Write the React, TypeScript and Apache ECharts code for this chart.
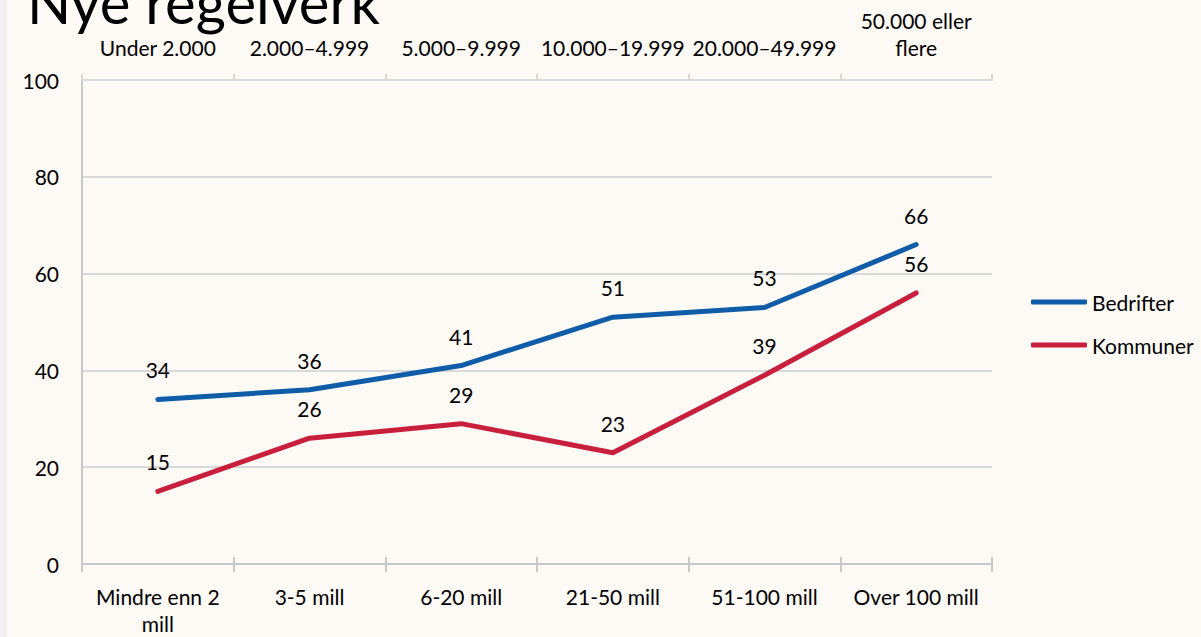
import React, { useEffect, useRef } from "react";
import * as echarts from "echarts";

// Revenue bands (bottom axis) and matching employee bands (top axis)
const revenueBands = ["Mindre enn 2\nmill", "3-5 mill", "6-20 mill", "21-50 mill", "51-100 mill", "Over 100 mill"];
const sizeBands = ["Under 2.000", "2.000–4.999", "5.000–9.999", "10.000–19.999", "20.000–49.999", "50.000 eller\nflere"];

const bedrifter = [34, 36, 41, 51, 53, 66];
const kommuner = [15, 26, 29, 23, 39, 56];

const yTicks = { min: 0, max: 100, interval: 20 };

const FONT = "Lato";
const BLUE = "#0f5ca8";
const RED = "#c91f3e";

export default function App() {
  const ref = useRef<HTMLDivElement>(null);

  useEffect(() => {
    if (!ref.current) return;
    const chart = echarts.init(ref.current, undefined, { renderer: "svg" });

    const labelStyle = {
      show: true,
      position: "top" as const,
      distance: 17,
      color: "#000",
      fontFamily: FONT,
      fontSize: 21,
      lineHeight: 24,
    };

    chart.setOption({
      animation: false,
      backgroundColor: "#fdf9f5",
      textStyle: { fontFamily: FONT },
      graphic: [
        { type: "rect", left: 0, top: 0, shape: { width: 7, height: 637 }, style: { fill: "#efefef" }, silent: true },
        {
          type: "text",
          left: 27,
          top: -28,
          style: { text: "Nye regelverk", fontFamily: FONT, fontSize: 58, fill: "#000" },
          silent: true,
        },
      ],
      legend: {
        orient: "vertical",
        left: 1031,
        top: 290,
        padding: 0,
        itemWidth: 56,
        itemHeight: 5,
        itemGap: 19,
        icon: "roundRect",
        textStyle: { fontFamily: FONT, fontSize: 21, color: "#000", lineHeight: 24 },
        data: ["Bedrifter", "Kommuner"],
      },
      grid: { left: 82, right: 209, top: 80, bottom: 68 },
      xAxis: [
        {
          type: "category",
          data: revenueBands,
          position: "bottom",
          axisLine: { lineStyle: { color: "#c8c8c8", width: 2 } },
          axisTick: { show: true, length: 8, lineStyle: { color: "#c8c8c8", width: 2 } },
          axisLabel: { color: "#000", fontFamily: FONT, fontSize: 21, lineHeight: 27, margin: 19, interval: 0 },
        },
        {
          type: "category",
          data: sizeBands,
          position: "top",
          axisLine: { lineStyle: { color: "#d9d9d9", width: 2 } },
          axisTick: { show: true, length: 6, lineStyle: { color: "#d9d9d9", width: 2 } },
          axisLabel: { color: "#000", fontFamily: FONT, fontSize: 21, lineHeight: 27, margin: 19, interval: 0 },
        },
        {
          // inner half of the crossing ticks on the bottom axis
          type: "category",
          data: revenueBands,
          position: "bottom",
          axisLine: { show: false },
          axisTick: { show: true, inside: true, length: 7, lineStyle: { color: "#c8c8c8", width: 2 } },
          axisLabel: { show: false },
        },
      ],
      yAxis: {
        type: "value",
        min: yTicks.min,
        max: yTicks.max,
        interval: yTicks.interval,
        axisLine: { show: true, lineStyle: { color: "#c8c8c8", width: 2 } },
        axisTick: { show: false },
        axisLabel: { color: "#000", fontFamily: FONT, fontSize: 21, margin: 23 },
        splitLine: { lineStyle: { color: "#d9d9d9", width: 2 } },
      },
      series: [
        {
          name: "Bedrifter",
          type: "line",
          data: bedrifter,
          color: BLUE,
          symbol: "circle",
          symbolSize: 1,
          lineStyle: { width: 5, color: BLUE, cap: "round", join: "round" },
          label: labelStyle,
        },
        {
          name: "Kommuner",
          type: "line",
          data: kommuner,
          color: RED,
          symbol: "circle",
          symbolSize: 1,
          lineStyle: { width: 5, color: RED, cap: "round", join: "round" },
          label: labelStyle,
        },
      ],
    });

    return () => chart.dispose();
  }, []);

  return (
    <div style={{ position: "absolute", left: 0, top: 0, width: 1201, height: 637 }}>
      <div ref={ref} style={{ width: 1201, height: 637 }} />
    </div>
  );
}
